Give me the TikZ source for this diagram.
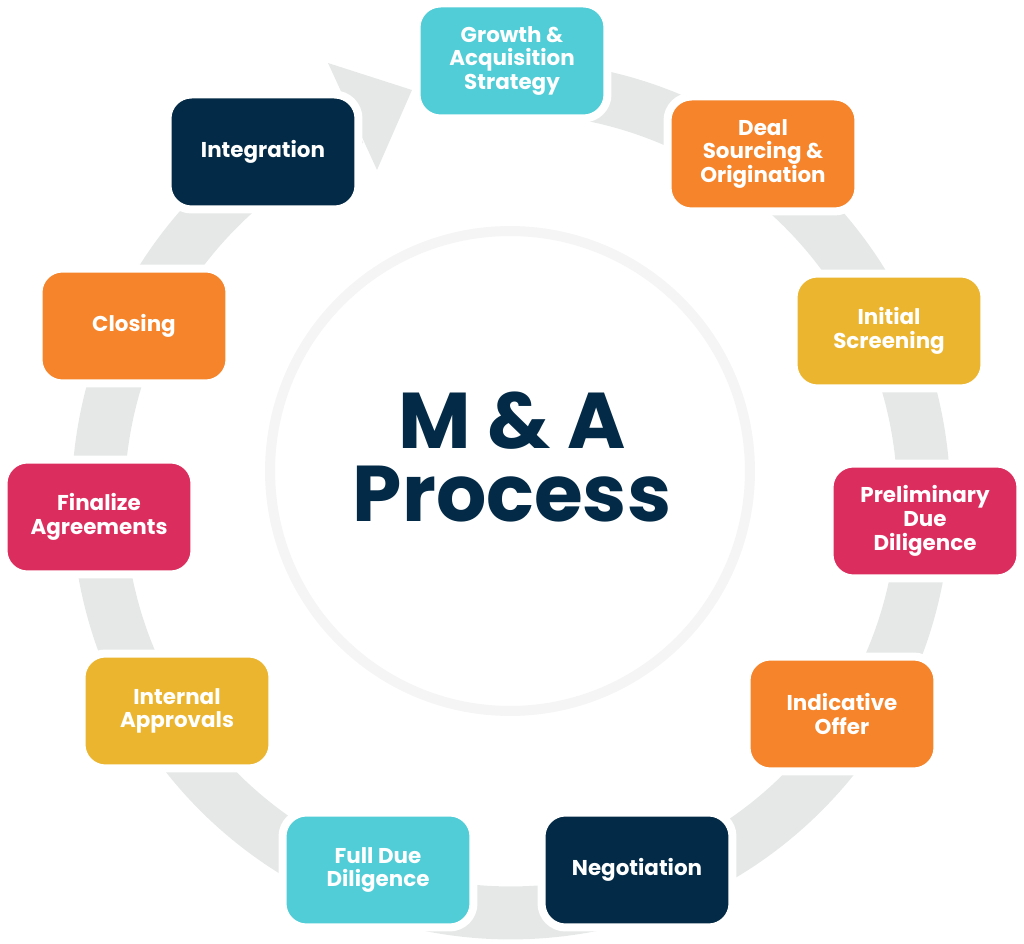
\documentclass[tikz,border=0pt]{standalone}
\usepackage{fontspec}
\setmainfont{Poppins}
\usetikzlibrary{calc}

\definecolor{cteal}{RGB}{80,205,214}
\definecolor{corange}{RGB}{245,132,42}
\definecolor{cyellow}{RGB}{235,181,47}
\definecolor{cpink}{RGB}{220,46,94}
\definecolor{cnavy}{RGB}{3,42,70}
\definecolor{cring}{RGB}{230,232,232}

\begin{document}
\begin{tikzpicture}[x=0.02cm, y=0.02cm]
	\tikzstyle{stage}=[draw=white, line width=0.16cm, rounded corners=0.48cm, minimum width=3.82cm, minimum height=2.3cm, inner sep=0pt, text=white, align=center, font=\fontsize{12.2}{13.5}\selectfont\bfseries]
	\tikzstyle{ring}=[draw=cring, line width=1.06cm]
	\useasboundingbox (0,0) rectangle (1024,943);
	% grey cycle arrow behind everything
	\coordinate (rc) at (511,443);
	\draw[ring] (rc) ++(95:8.26cm) arc[start angle=95, end angle=-247.5, radius=8.26cm];
	\fill[cring] (328,880) -- (412,853) -- (377,773) -- cycle;
	% centre
	\node[circle, fill=white, draw=black!4, line width=0.2cm, minimum size=9.6cm] (hub) at (510,472) {};
	\node[text=cnavy, font=\fontsize{45}{41}\selectfont\bfseries, align=center] (title) at (512,486) {M \& A\\Process};
	% stages, clockwise from the top
	\node[stage, fill=cteal]   (growth)      at (512,882) {Growth \&\\Acquisition\\Strategy};
	\node[stage, fill=corange] (sourcing)    at (763,789) {Deal\\Sourcing \&\\Origination};
	\node[stage, fill=cyellow] (screening)   at (889,612) {Initial\\Screening};
	\node[stage, fill=cpink]   (prelim)      at (925,422) {Preliminary\\Due\\Diligence};
	\node[stage, fill=corange] (offer)       at (842,229) {Indicative\\Offer};
	\node[stage, fill=cnavy]   (negotiation) at (637,73)  {Negotiation};
	\node[stage, fill=cteal]   (fulldd)      at (378,73)  {Full Due\\Diligence};
	\node[stage, fill=cyellow] (approvals)   at (177,232) {Internal\\Approvals};
	\node[stage, fill=cpink]   (finalize)    at (99,426)  {Finalize\\Agreements};
	\node[stage, fill=corange] (closing)     at (134,617) {Closing};
	\node[stage, fill=cnavy]   (integration) at (263,791) {Integration};
\end{tikzpicture}
\end{document}
